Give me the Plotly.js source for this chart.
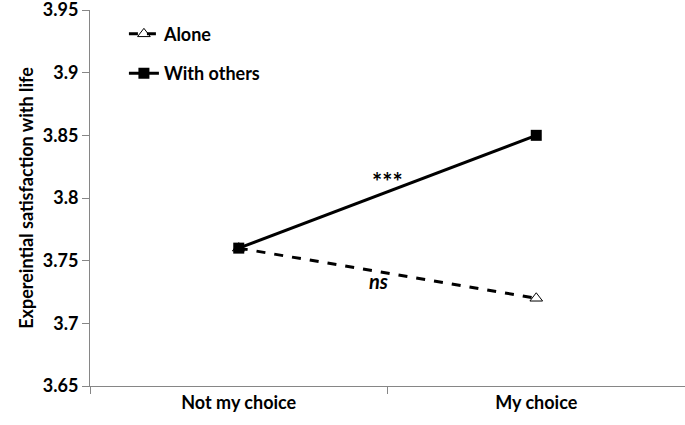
<!DOCTYPE html>
<html>
<head>
<meta charset="utf-8">
<script src="https://cdn.plot.ly/plotly-3.0.1.min.js"></script>
<style>
  html, body { margin: 0; padding: 0; background: #fff; }
  #plot { width: 685px; height: 425px; }
</style>
</head>
<body>
<div id="plot"></div>
<script>
// Categories and series values
let conditions = ["Not my choice", "My choice"];
let alone = [3.76, 3.72];
let withOthers = [3.76, 3.85];

// Y tick labels
let yTicks = [3.65, 3.7, 3.75, 3.8, 3.85, 3.9, 3.95];
let yTickText = ["3.65", "3.7", "3.75", "3.8", "3.85", "3.9", "3.95"];

let font = "Lato, 'Open Sans', sans-serif";

let traceAlone = {
  x: conditions,
  y: alone,
  type: "scatter",
  mode: "lines+markers",
  name: "<b>Alone</b>",
  legendgroup: "a",
  line: { color: "#000", width: 3, dash: "dash" },
  marker: { symbol: "triangle-up-open", size: 11, color: "#000", line: { width: 1, color: "#000" } }
};

let traceOthers = {
  x: conditions,
  y: withOthers,
  type: "scatter",
  mode: "lines+markers",
  name: "<b>With others</b>",
  legendgroup: "b",
  line: { color: "#000", width: 3 },
  marker: { symbol: "square", size: 11, color: "#000" }
};

let layout = {
  width: 685,
  height: 425,
  margin: { l: 90, r: 0, t: 10, b: 39 },
  paper_bgcolor: "#fff",
  plot_bgcolor: "#fff",
  font: { family: font, size: 18, color: "#000" },
  showlegend: true,
  legend: {
    x: 0.057, y: 0.985, xanchor: "left", yanchor: "top",
    bgcolor: "rgba(0,0,0,0)",
    font: { family: font, size: 18, color: "#000" },
    tracegroupgap: 13
  },
  xaxis: {
    type: "category",
    range: [-0.5, 1.5],
    showline: true,
    linecolor: "#868686",
    linewidth: 1,
    ticks: "outside",
    tickson: "boundaries",
    ticklen: 7,
    tickcolor: "#868686",
    showgrid: false,
    zeroline: false,
    automargin: false,
    tickfont: { family: font, size: 18, color: "#000", weight: "bold" }
  },
  yaxis: {
    range: [3.65, 3.95],
    tickvals: yTicks,
    ticktext: yTickText,
    ticklabeloverflow: "allow",
    showline: true,
    linecolor: "#868686",
    linewidth: 1,
    ticks: "outside",
    ticklen: 7,
    tickcolor: "#868686",
    showgrid: false,
    zeroline: false,
    automargin: false,
    tickfont: { family: font, size: 18, color: "#000", weight: "bold" },
    title: { text: "<b>Expereintial satisfaction with life</b>", font: { family: font, size: 18, color: "#000", weight: "bold" }, standoff: 4 }
  },
  annotations: [
    { x: 0.5, y: 3.813, xref: "x", yref: "y", text: "<b>***</b>", showarrow: false, font: { family: font, size: 24, color: "#000" } },
    { x: 0.47, y: 3.734, xref: "x", yref: "y", text: "<b><i>ns</i></b>", showarrow: false, font: { family: font, size: 20, color: "#000" } }
  ]
};

Plotly.newPlot("plot", [traceAlone, traceOthers], layout, { displayModeBar: false });
</script>
</body>
</html>
